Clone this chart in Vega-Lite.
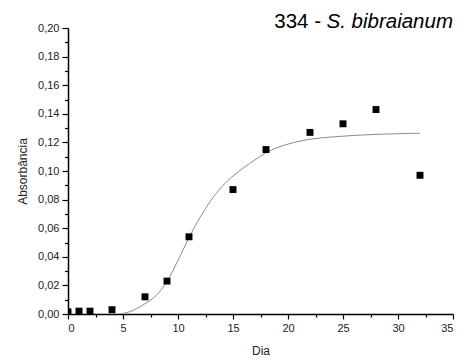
{
  "$schema": "https://vega.github.io/schema/vega-lite/v6.json",
  "autosize": "none",
  "width": 385,
  "height": 286,
  "padding": {"left": 68, "top": 28, "right": 12, "bottom": 47},
  "background": "white",
  "config": {
    "view": {"stroke": null},
    "font": "Liberation Sans",
    "axis": {
      "grid": false,
      "domainColor": "#000000",
      "domainWidth": 1.5,
      "tickColor": "#000000",
      "tickWidth": 1.2,
      "labelFont": "Liberation Sans",
      "labelFontSize": 11,
      "labelColor": "#222222",
      "titleFont": "Liberation Sans",
      "titleFontSize": 12,
      "titleFontWeight": "normal",
      "titleColor": "#222222",
      "zindex": 1
    }
  },
  "datasets": {
    "points": [
      {"dia": 0, "abs": 0.0015},
      {"dia": 1, "abs": 0.002},
      {"dia": 2, "abs": 0.002},
      {"dia": 4, "abs": 0.003},
      {"dia": 7, "abs": 0.012},
      {"dia": 9, "abs": 0.023},
      {"dia": 11, "abs": 0.054},
      {"dia": 15, "abs": 0.087},
      {"dia": 18, "abs": 0.115},
      {"dia": 22, "abs": 0.127},
      {"dia": 25, "abs": 0.133},
      {"dia": 28, "abs": 0.143},
      {"dia": 32, "abs": 0.097}
    ],
    "curve": [
      {"dia": 4.8, "abs": 0.0},
      {"dia": 5.5, "abs": 0.0013},
      {"dia": 6, "abs": 0.0028},
      {"dia": 7, "abs": 0.0072},
      {"dia": 8, "abs": 0.0128},
      {"dia": 9, "abs": 0.0228},
      {"dia": 10, "abs": 0.0375},
      {"dia": 11, "abs": 0.0535},
      {"dia": 12, "abs": 0.0675},
      {"dia": 13, "abs": 0.0795},
      {"dia": 14, "abs": 0.0892},
      {"dia": 15, "abs": 0.0965},
      {"dia": 16, "abs": 0.1025},
      {"dia": 17, "abs": 0.1078},
      {"dia": 18, "abs": 0.1128},
      {"dia": 19, "abs": 0.1163},
      {"dia": 20, "abs": 0.1188},
      {"dia": 22, "abs": 0.1222},
      {"dia": 24, "abs": 0.1238},
      {"dia": 26, "abs": 0.1249},
      {"dia": 28, "abs": 0.1256},
      {"dia": 30, "abs": 0.1261},
      {"dia": 32, "abs": 0.1264}
    ],
    "title": [
      {"dia": 35, "abs": 0.2, "a": "334 -", "b": "S. bibraianum"}
    ]
  },
  "layer": [
    {
      "data": {"name": "curve"},
      "mark": {"type": "line", "color": "#8c8c8c", "strokeWidth": 1, "interpolate": "monotone", "clip": true},
      "encoding": {
        "x": {
          "field": "dia", "type": "quantitative",
          "scale": {"domain": [0, 35], "nice": false, "zero": false},
          "axis": {
            "title": "Dia",
            "values": [0, 2.5, 5, 7.5, 10, 12.5, 15, 17.5, 20, 22.5, 25, 27.5, 30, 32.5, 35],
            "tickCount": 100,
            "labelExpr": "datum.value % 5 === 0 ? format(datum.value, 'd') : ''",
            "labelOverlap": false,
            "tickSize": {"condition": {"test": "datum.value % 5 === 0", "value": 5}, "value": 3},
            "labelPadding": 3,
            "titleX": 192.5, "titleY": 36, "titleBaseline": "middle", "titleAlign": "center"
          }
        },
        "y": {
          "field": "abs", "type": "quantitative",
          "scale": {"domain": [0, 0.2], "nice": false},
          "axis": {
            "title": "Absorbância",
            "values": [0, 0.01, 0.02, 0.03, 0.04, 0.05, 0.06, 0.07, 0.08, 0.09, 0.1, 0.11, 0.12, 0.13, 0.14, 0.15, 0.16, 0.17, 0.18, 0.19, 0.2],
            "tickCount": 100,
            "labelExpr": "round(datum.value * 100) % 2 === 0 ? replace(format(datum.value, '.2f'), '.', ',') : ''",
            "labelOverlap": false,
            "tickSize": {"condition": {"test": "round(datum.value * 100) % 2 === 0", "value": 6}, "value": 3.5},
            "labelPadding": 3,
            "titleX": -46, "titleY": 143, "titleBaseline": "middle", "titleAlign": "center", "titleAngle": -90
          }
        }
      }
    },
    {
      "data": {"name": "points"},
      "mark": {"type": "point", "shape": "square", "filled": true, "color": "#000000", "opacity": 1, "size": 48, "clip": true},
      "encoding": {
        "x": {"field": "dia", "type": "quantitative"},
        "y": {"field": "abs", "type": "quantitative"}
      }
    },
    {
      "data": {"name": "title"},
      "mark": {"type": "text", "align": "right", "baseline": "alphabetic", "font": "Liberation Sans", "fontSize": 20.5, "fontStyle": "italic", "color": "#000000"},
      "encoding": {
        "x": {"field": "dia", "type": "quantitative"},
        "y": {"field": "abs", "type": "quantitative"},
        "text": {"field": "b"}
      }
    },
    {
      "data": {"name": "title"},
      "mark": {"type": "text", "align": "right", "baseline": "alphabetic", "font": "Liberation Sans", "fontSize": 20.5, "color": "#000000", "dx": -132},
      "encoding": {
        "x": {"field": "dia", "type": "quantitative"},
        "y": {"field": "abs", "type": "quantitative"},
        "text": {"field": "a"}
      }
    }
  ]
}
